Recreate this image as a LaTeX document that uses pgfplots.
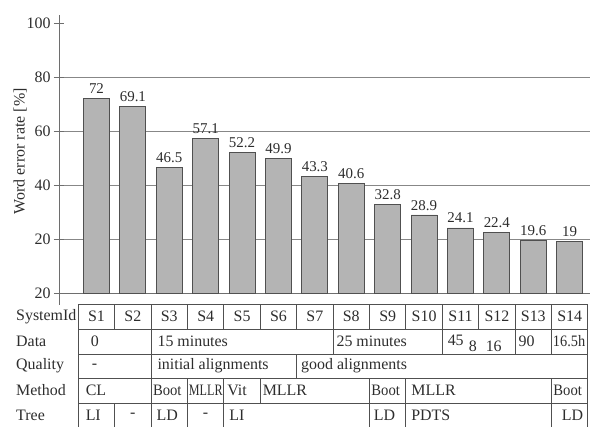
\documentclass[border=0pt]{standalone}
\usepackage{fontspec}
\setmainfont{Liberation Serif}
\usepackage{graphicx}
\usepackage{pgfplots}
\pgfplotsset{compat=1.18}

\definecolor{barfill}{RGB}{180,180,180}
\definecolor{baredge}{RGB}{80,80,80}
\definecolor{gridc}{RGB}{135,135,135}
\definecolor{axc}{RGB}{110,110,110}
\definecolor{txt}{RGB}{45,45,45}

\newcommand\tabfont{\fontsize{16}{16}\selectfont}

\begin{document}
\begin{tikzpicture}
  \begin{axis}[
      scale only axis,
      width=531bp, height=278bp,
      xmin=-0.03, xmax=14.56,
      ymin=0, ymax=103,
      axis lines=left,
      axis line style={-, axc, line width=0.9bp},
      xtick=\empty,
      ytick={0,20,40,60,80,100},
      yticklabels={20,20,40,60,80,100},
      extra y ticks={20,40,60,80},
      extra y tick labels={},
      extra y tick style={grid=major},
      grid style={gridc, line width=0.9bp},
      tick align=center,
      major tick length=10bp,
      tick style={axc, line width=0.9bp},
      /pgf/number format/assume math mode=true,
      yticklabel style={font=\fontsize{16}{16}\selectfont, text=txt},
      ylabel={Word error rate [\%]},
      ylabel style={at={(axis description cs:-0.073,0.51)}, anchor=center,
                    font=\fontsize{16}{16}\selectfont, text=txt},
      clip=false,
      nodes near coords,
      every node near coord/.append style={font=\fontsize{15}{15}\selectfont, text=txt, yshift=1bp},
  ]
  \addplot[ybar, bar width=26bp, fill=barfill, draw=baredge, line width=0.9bp]
    coordinates {
      (1,72) (2,69.1) (3,46.5) (4,57.1) (5,52.2) (6,49.9) (7,43.3)
      (8,40.6) (9,32.8) (10,28.9) (11,24.1) (12,22.4) (13,19.6) (14,19)
    };
  \end{axis}

  % y axis line runs a little below the x axis
  \draw[axc, line width=0.9bp] (0,0) -- (0,-12bp);

  % row labels
  \begin{scope}[every node/.style={anchor=west, inner sep=0pt, font=\tabfont, text=txt}]
    \node at (-43bp,-23.5bp) {SystemId};
    \node at (-43bp,-48.5bp) {Data};
    \node at (-43bp,-73bp) {Quality};
    \node at (-43bp,-97.5bp) {Method};
    \node at (-43bp,-122bp) {Tree};
  \end{scope}

  % table, one x unit per system column
  \begin{scope}[shift={(19.3bp,0)}, x=36.4bp, y=1bp, line width=0.9bp]
    \draw[baredge] (0,-11) -- (14,-11);
    \foreach \yy in {-36,-61,-85,-110} \draw[baredge] (0,\yy) -- (14,\yy);
    \draw[baredge] (0,-11) -- (0,-134);
    \draw[baredge] (14,-11) -- (14,-134);
    \foreach \xx in {1,...,13} \draw[baredge] (\xx,-11) -- (\xx,-36);
    \foreach \xx in {2,7,10,12,13} \draw[baredge] (\xx,-36) -- (\xx,-61);
    \foreach \xx in {2,6} \draw[baredge] (\xx,-61) -- (\xx,-85);
    \foreach \xx in {2,3,4,5,8,9,13} \draw[baredge] (\xx,-85) -- (\xx,-110);
    \foreach \xx in {1,2,3,4,8,9,13} \draw[baredge] (\xx,-110) -- (\xx,-134);

    \foreach \i in {1,...,14}
      \node[inner sep=0pt, font=\tabfont, text=txt] at (\i-0.5,-23.5) {S\i};

    \begin{scope}[every node/.style={anchor=west, inner sep=0pt, font=\tabfont, text=txt}]
      % Data
      \node at (0,-48.5)  [xshift=12bp] {0};
      \node at (2,-48.5)  [xshift=6bp]  {15 minutes};
      \node at (7,-48.5)  [xshift=3bp]  {25 minutes};
      \node at (10,-47)   [xshift=5bp]  {45};
      \node at (10,-53)   [xshift=26bp] {8};
      \node at (10,-53)   [xshift=43bp] {16};
      \node at (12,-48.5) [xshift=3bp]  {90};
      \node at (13,-48.5) [xshift=1bp]  {\scalebox{0.9}[1]{16.5h}};
      % Quality
      \node at (0,-73)    [xshift=13bp] {-};
      \node at (2,-73)    [xshift=6bp]  {initial alignments};
      \node at (6,-73)    [xshift=4bp]  {good alignments};
      % Method
      \node at (0,-97.5)  [xshift=7bp]  {CL};
      \node at (2,-97.5)  [xshift=1.5bp]  {\scalebox{0.92}[1]{Boot}};
      \node at (3,-97.5)  [xshift=1bp]  {\scalebox{0.76}[1]{MLLR}};
      \node at (4,-97.5)  [xshift=3bp]  {Vit};
      \node at (5,-97.5)  [xshift=2bp]  {MLLR};
      \node at (8,-97.5)  [xshift=1.5bp]  {\scalebox{0.92}[1]{Boot}};
      \node at (9,-97.5)  [xshift=5bp]  {MLLR};
      \node at (13,-97.5) [xshift=1.5bp]  {\scalebox{0.92}[1]{Boot}};
      % Tree
      \node at (0,-122)   [xshift=7bp]  {LI};
      \node at (1,-122)   [xshift=15bp] {-};
      \node at (2,-122)   [xshift=5bp]  {LD};
      \node at (3,-122)   [xshift=15bp] {-};
      \node at (4,-122)   [xshift=5bp]  {LI};
      \node at (8,-122)   [xshift=4bp]  {LD};
      \node at (9,-122)   [xshift=5bp]  {PDTS};
      \node at (13,-122)  [xshift=10bp] {LD};
    \end{scope}
  \end{scope}

  \pgfresetboundingbox
  \path (-59bp,-134bp) rectangle (534bp,293bp);
\end{tikzpicture}
\end{document}
